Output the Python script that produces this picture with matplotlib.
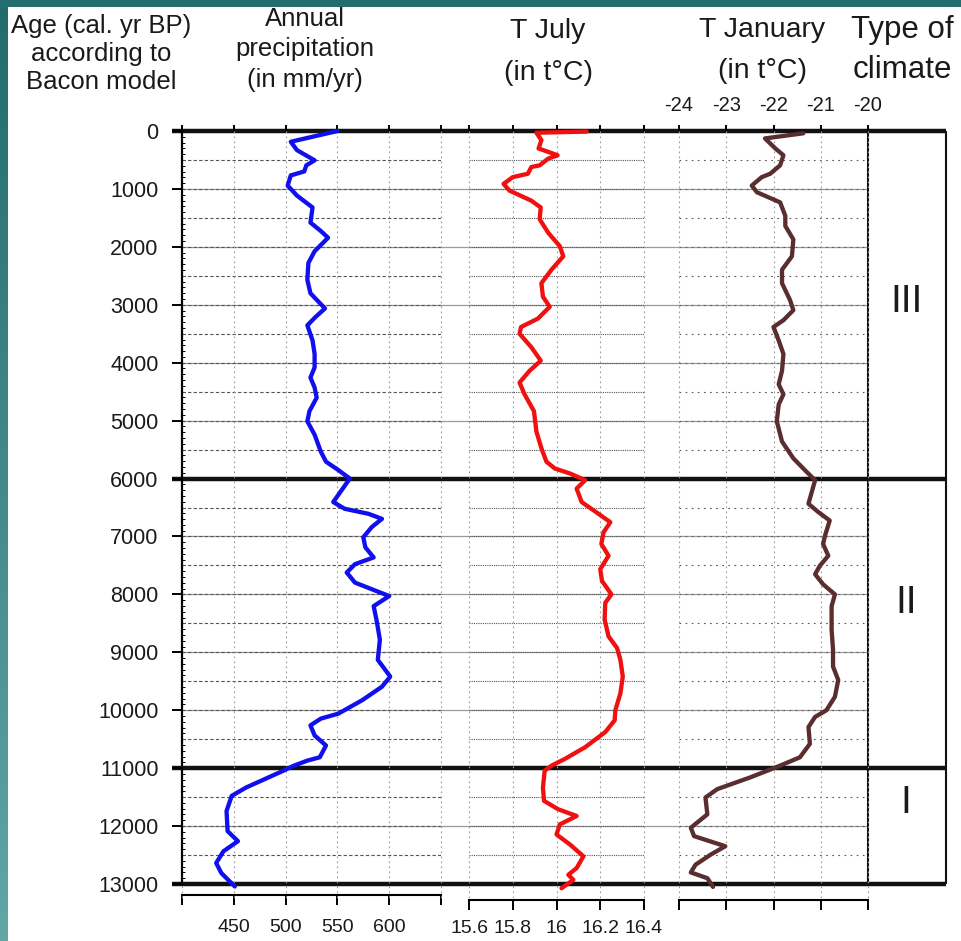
import numpy as np
import matplotlib.pyplot as plt
from matplotlib import font_manager

W, H = 961, 941

# ---- data ----
precip_age = [0, 186, 331, 506, 593, 698, 767, 942, 1116, 1320, 1581, 1727, 1843, 2076, 2279,
              2570, 2802, 3064, 3209, 3355, 3616, 3849, 4081, 4256, 4430, 4605, 4837, 5012,
              5244, 5535, 5709, 5855, 6000, 6203, 6406, 6522, 6609, 6696, 6841, 7014, 7188,
              7362, 7478, 7623, 7797, 8029, 8203, 8464, 8783, 9130, 9420, 9594, 9826, 10058,
              10145, 10261, 10435, 10609, 10812, 10870, 10957, 11043, 11333, 11478, 11739,
              12087, 12261, 12435, 12638, 12812, 13043]
precip_val = [550, 505, 511, 528, 520, 518, 505, 502, 511, 526, 524, 534, 541, 528, 522,
              521, 524, 538, 529, 521, 526, 528, 528, 524, 528, 530, 523, 521,
              528, 534, 539, 551, 562, 554, 546, 557, 580, 593, 583, 575, 577,
              585, 567, 559, 567, 600, 585, 588, 591, 589, 601, 593, 574, 551,
              534, 524, 528, 539, 533, 521, 508, 498, 462, 448, 443,
              444, 454, 440, 433, 438, 451]

july_age = [10, 30, 157, 302, 360, 419, 477, 593, 622, 738, 797, 913, 1029, 1203, 1320, 1523,
            1756, 1988, 2163, 2395, 2628, 2860, 3035, 3238, 3384, 3500, 3733, 3965, 4140,
            4343, 4546, 4837, 5186, 5477, 5709, 5826, 5913, 6029, 6174, 6406, 6609, 6754,
            6928, 7130, 7333, 7565, 7768, 8000, 8145, 8435, 8725, 8928, 9130, 9420, 9710,
            10000, 10174, 10377, 10638, 10841, 10957, 11043, 11333, 11565, 11710, 11826,
            11971, 12145, 12319, 12522, 12725, 12841, 12928, 13073]
july_val = [16.138, 15.908, 15.931, 15.918, 15.962, 16.005, 15.962, 15.923, 15.885, 15.869,
            15.80, 15.758, 15.785, 15.885, 15.928, 15.923, 15.962, 16.015, 16.031, 15.977,
            15.931, 15.938, 15.969, 15.915, 15.838, 15.831, 15.885, 15.928, 15.877, 15.831,
            15.854, 15.897, 15.908, 15.931, 15.954, 15.992, 16.062, 16.131, 16.092, 16.115,
            16.192, 16.246, 16.215, 16.205, 16.238, 16.20, 16.208, 16.251, 16.223, 16.22,
            16.238, 16.277, 16.292, 16.303, 16.292, 16.269, 16.266, 16.223, 16.131, 16.038,
            15.977, 15.946, 15.938, 15.943, 16.008, 16.092, 16.015, 16.00, 16.062, 16.123,
            16.092, 16.054, 16.077, 16.023]

jan_age = [40, 128, 302, 419, 593, 738, 797, 942, 1058, 1232, 1465, 1639, 1872, 2163, 2395,
           2628, 2919, 3093, 3267, 3384, 3616, 3849, 4140, 4372, 4546, 4721, 5012, 5360, 5651,
           5884, 6029, 6232, 6435, 6580, 6725, 6986, 7130, 7333, 7507, 7652, 7826, 8000, 8203,
           8609, 8957, 9246, 9478, 9768, 10000, 10116, 10290, 10580, 10812, 10957, 11159,
           11362, 11507, 11797, 12029, 12174, 12348, 12493, 12667, 12800, 12900, 13050]
jan_val = [-21.37, -22.18, -21.96, -21.79, -21.86, -22.07, -22.25, -22.46, -22.35, -21.86,
           -21.75, -21.75, -21.58, -21.61, -21.82, -21.82, -21.65, -21.58, -21.79, -22.0,
           -21.89, -21.79, -21.82, -21.89, -21.79, -21.89, -21.93, -21.82, -21.58, -21.30,
           -21.12, -21.19, -21.26, -21.05, -20.81, -20.91, -20.95, -20.84, -21.02, -21.12,
           -20.95, -20.70, -20.77, -20.77, -20.74, -20.74, -20.63, -20.70, -20.88, -21.12,
           -21.26, -21.23, -21.44, -21.86, -22.49, -23.19, -23.44, -23.40, -23.75, -23.68,
           -23.02, -23.33, -23.65, -23.75, -23.40, -23.28]

age_ticks = list(range(0, 13001, 1000))
precip_ticks = [400, 450, 500, 550, 600, 650]
precip_labels = ['', '450', '500', '550', '600', '']
july_ticks = [15.6, 15.8, 16.0, 16.2, 16.4]
july_labels = ['15.6', '15.8', '16', '16.2', '16.4']
jan_ticks = [-24, -23, -22, -21, -20]
jan_labels = ['-24', '-23', '-22', '-21', '-20']

climate_bounds = [0, 6000, 11000, 13000]
climate_names = ['III', 'II', 'I']
climate_label_age = [2950, 8150, 11600]

# ---- fonts ----
plt.rcParams['font.family'] = ['Liberation Sans', 'DejaVu Sans']
installed = {f.name for f in font_manager.fontManager.ttflist}
tick_font = 'Liberation Sans Narrow' if 'Liberation Sans Narrow' in installed else 'Liberation Sans'
TXT = '#1a1a1a'

fig = plt.figure(figsize=(W / 100, H / 100), dpi=100)
fig.patch.set_facecolor('white')


def box(x0, x1, y0=131, y1=884):
    # axes rectangle from pixel edges
    return [x0 / W, 1 - y1 / H, (x1 - x0) / W, (y1 - y0) / H]


# teal frame of the slide
frame_l = fig.add_axes([0, 0, 8 / W, 1])
grad = np.linspace(0, 1, 256).reshape(-1, 1)
frame_l.imshow(grad, aspect='auto', cmap=plt.matplotlib.colors.LinearSegmentedColormap.from_list(
    'teal', ['#216b6d', '#62a6a6']), extent=[0, 1, 0, 1], origin='upper')
frame_l.axis('off')
frame_t = fig.add_axes([0, 1 - 7 / H, 1, 7 / H])
frame_t.set_facecolor('#236d6f')
frame_t.set_xticks([])
frame_t.set_yticks([])
for s in frame_t.spines.values():
    s.set_visible(False)

# background: shared horizontal lines and climate column (x in pixels)
bg = fig.add_axes(box(0, W))
bg.set_xlim(0, W)
bg.set_ylim(13000, 0)
bg.axis('off')
inner = [a for a in age_ticks if a not in climate_bounds]
bg.hlines(inner, 182, 868, color='#9a9a9a', lw=0.9)
bg.hlines(climate_bounds, 172, 946, color='#111111', lw=3.2, clip_on=False)
bg.vlines([868, 946], 0, 13000, color='#111111', lw=1.5)
for name, a in zip(climate_names, climate_label_age):
    bg.text(906, a, name, ha='center', va='center', fontsize=28, color=TXT)

grid_ages = [a for a in range(500, 13000, 500) if a not in climate_bounds]


def panel(x0, x1, lim, ticks, style, offset):
    ax = fig.add_axes(box(x0, x1))
    ax.set_facecolor('none')
    ax.set_xlim(*lim)
    ax.set_ylim(13000, 0)
    for s in ['top', 'right', 'left']:
        ax.spines[s].set_visible(False)
    ax.spines['bottom'].set_position(('outward', offset))
    ax.spines['bottom'].set_linewidth(1.5)
    ax.set_xticks(ticks)
    ax.tick_params(axis='x', direction='out', length=7, width=1.4, labelsize=14,
                   labelcolor=TXT)
    ax.hlines(grid_ages, lim[0], lim[1], color='#555555', lw=0.8, linestyle=style)
    ax.vlines(ticks, 0, 13250, color='#999999', lw=0.8, linestyle=(0, (1.5, 3)),
              clip_on=False)
    top = ax.secondary_xaxis('top')
    top.set_xticks(ticks)
    top.set_xticklabels([])
    top.tick_params(direction='out', length=4.5, width=1.4)
    top.spines['top'].set_visible(False)
    return ax, top


ax1, top1 = panel(182, 441, (400, 650), precip_ticks, (0, (3, 2)), 8)
ax2, top2 = panel(469, 644, (15.6, 16.4), july_ticks, (0, (1, 1)), 11.5)
ax3, top3 = panel(679, 868, (-24, -20), jan_ticks, (0, (1.5, 4)), 11.5)

ax1.set_xticklabels(precip_labels, fontfamily=tick_font)
ax1.tick_params(axis='x', pad=10.5)
ax2.set_xticklabels(july_labels, fontfamily=tick_font)
ax2.tick_params(axis='x', pad=7.5)
ax3.set_xticklabels([])
top3.set_xticklabels(jan_labels, fontsize=14.5, color=TXT, fontfamily=tick_font)
top3.tick_params(pad=7)

# age axis
ax1.spines['left'].set_visible(True)
ax1.spines['left'].set_linewidth(1.6)
ax1.set_yticks(age_ticks)
ax1.set_yticklabels([str(a) for a in age_ticks], fontfamily=tick_font)
ax1.tick_params(axis='y', direction='out', length=7, width=1.4, labelsize=15.5, pad=10,
                labelcolor=TXT)
ax1.set_yticks(np.arange(0, 13001, 100), minor=True)
ax1.tick_params(axis='y', which='minor', direction='in', length=2.5, width=0.7)
for ax in (ax2, ax3):
    ax.set_yticks([])

# curves
line_kw = dict(lw=3.1, solid_joinstyle='round', solid_capstyle='round', clip_on=False, zorder=5)
ax1.plot(precip_val, precip_age, color='#1010ee', **line_kw)
ax2.plot(july_val, july_age, color='#f01010', **line_kw)
ax3.plot(jan_val, jan_age, color='#5a2e2e', **line_kw)

# column headers
titles = [
    (101, [33, 61, 89], ['Age (cal. yr BP)', 'according to', 'Bacon model'], 18.5),
    (305, [26, 56, 87], ['Annual', 'precipitation', '(in mm/yr)'], 18.5),
    (548, [38, 80], ['T July', '(in t°C)'], 20.5),
    (762, [37, 78], ['T January', '(in t°C)'], 20.5),
    (902, [38, 78], ['Type of', 'climate'], 22.5),
]
for x, ys, lines, size in titles:
    for y, s in zip(ys, lines):
        fig.text(x / W, 1 - y / H, s, ha='center', va='baseline', fontsize=size, color=TXT)

fig.savefig('out.png', dpi=100)
